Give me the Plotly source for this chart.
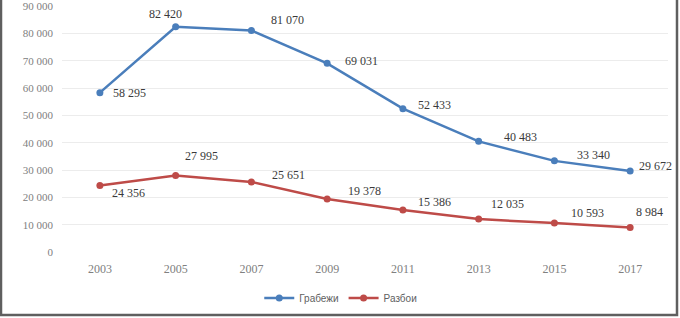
import plotly.graph_objects as go

years = [2003, 2005, 2007, 2009, 2011, 2013, 2015, 2017]
grabezhi = [58295, 82420, 81070, 69031, 52433, 40483, 33340, 29672]
razboi = [24356, 27995, 25651, 19378, 15386, 12035, 10593, 8984]
y_ticks = [0, 10000, 20000, 30000, 40000, 50000, 60000, 70000, 80000, 90000]

BLUE = "#4A7EBB"
RED = "#BE4B48"

# label offsets (pixels, dx right, dy down) for data labels
blue_off = [(30, 0), (-10, -13), (36, -10), (34, -2), (32, -4), (42, -4), (39, -6), (25, -5)]
red_off = [(29, 8), (26, -19), (37, -7), (37, -8), (32, -8), (29, -15), (33, -10), (19, -15)]


def fmt(v):
    return f"{v:,}".replace(",", " ")


fig = go.Figure()
fig.add_trace(go.Scatter(x=years, y=grabezhi, mode="lines+markers", name="Грабежи",
                         line=dict(color=BLUE, width=2.5), marker=dict(size=7, color=BLUE)))
fig.add_trace(go.Scatter(x=years, y=razboi, mode="lines+markers", name="Разбои",
                         line=dict(color=RED, width=2.5), marker=dict(size=7, color=RED)))

for vals, offs in ((grabezhi, blue_off), (razboi, red_off)):
    for xv, yv, (dx, dy) in zip(years, vals, offs):
        fig.add_annotation(x=xv, y=yv, xref="x", yref="y", text=fmt(yv), showarrow=False,
                           xshift=dx, yshift=-dy,
                           font=dict(family="Liberation Serif", size=12, color="#3a3a3a"))

PLOT_H = 318 - 6 - 66
fig.update_layout(
    width=680, height=318,
    margin=dict(l=62, r=12, t=6, b=66, autoexpand=False),
    paper_bgcolor="white", plot_bgcolor="white",
    separators=". ",
    showlegend=True,
    legend=dict(orientation="h", x=0.46, xanchor="center", y=-0.187, yanchor="middle",
                font=dict(family="Liberation Sans", size=10, color="#606060")),
    xaxis=dict(range=[2002, 2018], tickvals=years, tickformat="d", showgrid=False,
               showline=False, zeroline=False, ticks="", automargin=False,
               ticklabelstandoff=8,
               tickfont=dict(family="Liberation Serif", size=12, color="#808080")),
    yaxis=dict(range=[0, 90000], tickvals=y_ticks, tickformat=",d", showgrid=True,
               gridcolor="#ececec", gridwidth=1, zeroline=False, showline=False,
               tickfont=dict(family="Liberation Serif", size=11, color="#808080"),
               ticks="", ticklabeloverflow="allow", automargin=False,
               ticklabelstandoff=8),
)
fig.add_shape(type="rect", xref="paper", yref="paper",
              x0=(1 - 62) / 606, x1=(677 - 62) / 606,
              y0=(252 - 315) / PLOT_H, y1=1.2,
              line=dict(color="#5f5f5f", width=2.5))

fig.write_html("out.html", post_script="document.body.style.margin='0';",
               config={"displayModeBar": False})
